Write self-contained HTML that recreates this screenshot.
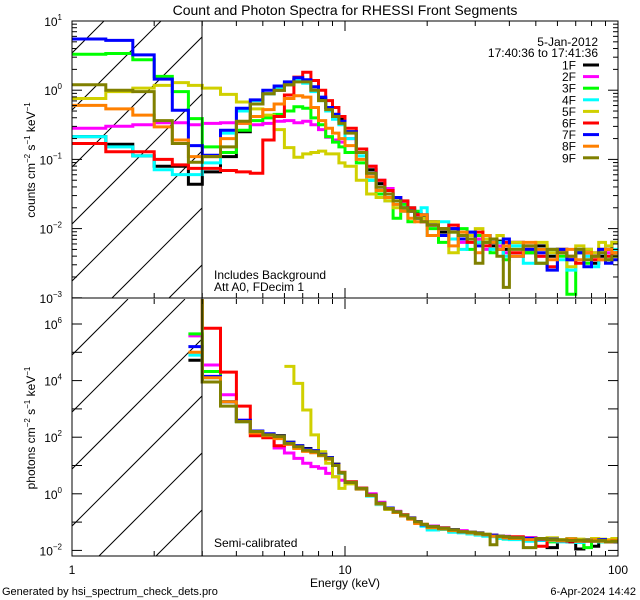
<!DOCTYPE html>
<html><head><meta charset="utf-8"><style>
html,body{margin:0;padding:0;background:#fff;}
svg{display:block;font-family:"Liberation Sans",sans-serif;}
</style></head><body>
<svg id="chart" width="640" height="600" viewBox="0 0 640 600" xmlns="http://www.w3.org/2000/svg">
<defs>
<clipPath id="clipTop"><rect x="72" y="21" width="546" height="277"/></clipPath>
<clipPath id="clipBot"><rect x="72" y="299" width="546" height="257"/></clipPath>
<clipPath id="hatchTop"><rect x="72" y="21" width="130" height="277"/></clipPath>
<clipPath id="hatchBot"><rect x="72" y="299" width="130" height="257"/></clipPath>
</defs>
<rect width="640" height="600" fill="#fff"/>
<text x="345" y="15" text-anchor="middle" font-size="14">Count and Photon Spectra for RHESSI Front Segments</text>
<g id="hatch"></g>
<g id="series"></g>
<g id="axes"></g>
<text x="214" y="279" font-size="12">Includes Background</text>
<text x="214" y="291" font-size="12">Att A0, FDecim 1</text>
<text x="214" y="547" font-size="12">Semi-calibrated</text>
<text x="598" y="46" text-anchor="end" font-size="12">5-Jan-2012</text>
<text x="598" y="57" text-anchor="end" font-size="12">17:40:36 to 17:41:36</text>
<g id="legend"></g>
<text transform="translate(35,160) rotate(-90)" text-anchor="middle" font-size="12">counts cm<tspan dy="-5" font-size="8">−2</tspan><tspan dy="5"> s</tspan><tspan dy="-5" font-size="8">−1</tspan><tspan dy="5"> keV</tspan><tspan dy="-5" font-size="8">−1</tspan></text>
<text transform="translate(35,428) rotate(-90)" text-anchor="middle" font-size="12">photons cm<tspan dy="-5" font-size="8">−2</tspan><tspan dy="5"> s</tspan><tspan dy="-5" font-size="8">−1</tspan><tspan dy="5"> keV</tspan><tspan dy="-5" font-size="8">−1</tspan></text>
<text x="345" y="587" text-anchor="middle" font-size="12">Energy (keV)</text>
<text x="2" y="595" font-size="11">Generated by hsi_spectrum_check_dets.pro</text>
<text x="636" y="595" text-anchor="end" font-size="11">6-Apr-2024 14:42</text>
</svg>
<script>
const energyEdges = [1,1.33,1.67,2,2.33,2.67,3,3.5,4,4.5,5,5.5,6,6.5,7,7.5,8,8.5,9,9.5,10,11,12,13,14,15,16,17,18,19,20,22,24,26,28,30,32,34,36,38,40,45,50,55,60,65,70,75,80,85,90,95,100];
const seriesNames = ["1F","2F","3F","4F","5F","6F","7F","8F","9F"];
const seriesColors = ["#000000","#ff00ff","#00ff00","#00ffff","#d0d000","#ff0000","#0000ff","#ff8000","#808000"];
// top panel: log10(counts), bins starting at 1 keV
const count1F = [-0.67,-0.78,-0.95,-1.1,-1.1,-1.36,-1.18,-0.96,-0.6,-0.2,-0.05,0.0,0.08,0.15,0.12,0.0,-0.12,-0.25,-0.35,-0.42,-0.6,-0.85,-1.15,-1.35,-1.5,-1.55,-1.62,-1.72,-1.78,-1.82,-1.9,-2.05,-2.0,-2.15,-2.05,-2.2,-2.1,-2.25,-2.18,-2.3,-2.2,-2.35,-2.25,-2.4,-2.3,-2.45,-2.35,-2.3,-2.5,-2.4,-2.3,-2.2];
const count2F = [-0.55,-0.52,-0.5,-0.47,-0.47,-0.5,-0.48,-0.47,-0.48,-0.5,-0.48,-0.45,-0.44,-0.47,-0.45,-0.5,-0.57,-0.68,-0.72,-0.75,-0.7,-0.85,-1.1,-1.3,-1.42,-1.55,-1.62,-1.75,-1.8,-1.9,-1.95,-2.1,-2.0,-2.2,-2.1,-2.15,-2.3,-2.2,-2.25,-2.35,-2.2,-2.3,-2.4,-2.3,-2.35,-2.45,-2.3,-2.4,-2.35,-2.45,-2.35,-2.4];
const count3F = [0.52,0.53,0.44,0.2,-0.02,-0.41,-0.82,-0.9,-0.58,-0.44,-0.4,-0.35,-0.3,-0.24,-0.26,-0.4,-0.5,-0.67,-0.75,-0.82,-0.9,-1.05,-1.3,-1.5,-1.55,-1.85,-1.65,-1.9,-1.75,-1.85,-2.0,-2.2,-2.05,-2.0,-2.3,-2.1,-2.2,-2.35,-2.2,-2.45,-2.25,-2.35,-2.5,-2.3,-2.4,-2.95,-2.35,-2.5,-2.4,-2.3,-2.45,-2.4];
const count4F = [-0.67,-0.82,-0.95,-1.15,-1.22,-1.22,-1.05,-0.62,-0.3,-0.15,-0.05,0.02,0.1,0.14,0.1,-0.02,-0.15,-0.3,-0.42,-0.5,-0.7,-0.95,-1.3,-1.45,-1.6,-1.65,-1.75,-1.7,-1.85,-1.7,-2.1,-1.9,-2.15,-2.3,-2.05,-2.2,-2.1,-2.3,-2.2,-2.4,-2.25,-2.5,-2.3,-2.35,-2.45,-2.6,-2.3,-2.4,-2.55,-2.35,-2.4,-2.3];
const count5F = [-0.12,-0.02,0.03,0.07,0.11,0.07,0.03,-0.06,-0.17,-0.27,-0.36,-0.57,-0.83,-0.97,-0.92,-0.9,-0.88,-0.92,-0.92,-1.05,-1.1,-1.3,-1.5,-1.55,-1.6,-1.7,-1.72,-1.75,-1.8,-1.85,-1.9,-2.0,-2.35,-2.05,-2.1,-2.0,-2.15,-2.2,-2.1,-2.25,-2.2,-2.3,-2.2,-2.35,-2.3,-2.55,-2.25,-2.3,-2.35,-2.2,-2.25,-2.2];
const count6F = [-0.77,-0.89,-0.89,-1.0,-1.08,-1.13,-1.13,-1.16,-1.18,-1.2,-0.72,-0.38,-0.07,0.19,0.26,0.14,0.0,-0.15,-0.25,-0.38,-0.55,-0.85,-1.1,-1.3,-1.45,-1.55,-1.6,-1.7,-1.8,-1.9,-1.95,-2.0,-1.95,-2.1,-2.2,-2.05,-2.25,-2.15,-2.3,-2.2,-2.35,-2.25,-2.4,-2.55,-2.3,-2.4,-2.5,-2.35,-2.45,-2.3,-2.4,-2.35];
const count7F = [0.74,0.72,0.51,0.16,-0.29,-0.8,-0.94,-0.58,-0.26,-0.14,0.0,0.06,0.12,0.18,0.15,0.05,-0.1,-0.25,-0.35,-0.45,-0.6,-0.9,-1.2,-1.4,-1.55,-1.55,-1.7,-1.75,-1.85,-1.8,-1.95,-2.1,-2.0,-2.15,-2.05,-2.25,-2.1,-2.2,-2.3,-2.15,-2.4,-2.3,-2.35,-2.6,-2.3,-2.45,-2.35,-2.55,-2.4,-2.3,-2.5,-2.45];
const count8F = [-0.22,-0.27,-0.36,-0.53,-0.72,-0.96,-0.96,-0.7,-0.48,-0.38,-0.28,-0.2,-0.12,-0.08,-0.1,-0.25,-0.44,-0.55,-0.62,-0.7,-0.8,-1.0,-1.25,-1.45,-1.55,-1.65,-1.75,-1.85,-1.9,-1.8,-2.1,-2.0,-2.25,-2.05,-2.15,-2.35,-2.1,-2.2,-2.3,-2.25,-2.4,-2.2,-2.3,-2.45,-2.35,-2.3,-2.45,-2.35,-2.4,-2.45,-2.3,-2.35];
const count9F = [0.08,0.0,-0.02,-0.44,-0.77,-1.04,-0.96,-0.82,-0.45,-0.2,-0.05,0.0,0.08,0.12,0.12,0.0,-0.15,-0.28,-0.38,-0.48,-0.62,-0.9,-1.2,-1.4,-1.5,-1.6,-1.7,-1.75,-1.85,-1.9,-1.95,-2.0,-2.05,-2.1,-2.15,-2.5,-2.2,-2.15,-2.4,-2.85,-2.3,-2.25,-2.5,-2.3,-2.35,-2.4,-2.3,-2.45,-2.4,-2.35,-2.45,-2.4];
// bottom panel: log10(photons), bins starting at 2.67 keV (bin index 5)
const photonStartBin = 5;
const phot1F = [4.72,3.95,3.25,2.55,2.2,2.08,2.05,1.82,1.7,1.6,1.52,1.4,1.28,1.05,0.75,0.42,0.2,-0.05,-0.34,-0.5,-0.66,-0.78,-0.85,-1.0,-1.1,-1.15,-1.25,-1.28,-1.32,-1.4,-1.38,-1.45,-1.48,-1.5,-1.55,-1.6,-1.55,-1.6,-1.9,-1.65,-1.7,-1.95,-1.62,-1.85,-1.66,-1.68,-1.7];
const phot2F = [5.58,4.55,3.5,2.6,2.2,2.08,1.62,1.44,1.25,1.08,0.96,0.9,0.72,0.6,0.48,0.4,0.2,0.0,-0.3,-0.52,-0.62,-0.74,-0.86,-0.98,-1.1,-1.14,-1.22,-1.27,-1.3,-1.38,-1.4,-1.44,-1.46,-1.5,-1.5,-1.55,-1.55,-1.6,-1.62,-1.64,-1.6,-1.65,-1.64,-1.68,-1.66,-1.7,-1.66];
const phot3F = [5.65,4.32,3.25,2.55,2.15,2.05,2.0,1.78,1.62,1.52,1.46,1.35,1.22,1.0,0.72,0.38,0.18,-0.05,-0.36,-0.55,-0.66,-0.78,-0.88,-1.0,-1.12,-1.2,-1.25,-1.32,-1.36,-1.42,-1.45,-1.48,-1.5,-1.56,-1.6,-1.6,-1.65,-1.62,-1.7,-1.66,-1.65,-1.7,-1.9,-1.66,-1.7,-1.65,-1.68];
const phot4F = [4.9,4.1,3.25,2.55,2.2,2.08,2.0,1.78,1.66,1.55,1.48,1.36,1.25,1.0,0.72,0.38,0.18,-0.08,-0.38,-0.52,-0.64,-0.76,-0.88,-1.0,-1.15,-1.28,-1.25,-1.36,-1.38,-1.42,-1.46,-1.5,-1.52,-1.58,-1.6,-1.62,-1.68,-1.65,-1.66,-1.7,-1.65,-1.72,-1.68,-1.66,-1.7,-1.65,-1.68];
const phot5F = [null,null,null,null,null,null,null,4.5,3.9,2.96,2.08,1.49,1.08,0.6,0.19,0.35,0.16,-0.05,-0.34,-0.52,-0.64,-0.75,-0.87,-0.99,-1.08,-1.16,-1.22,-1.27,-1.34,-1.36,-1.4,-1.43,-1.46,-1.5,-1.52,-1.55,-1.58,-1.6,-1.55,-1.62,-1.58,-1.6,-1.62,-1.58,-1.6,-1.62,-1.58];
const phot6F = [7.5,5.85,4.3,3.1,2.05,1.98,1.7,1.75,1.62,1.52,1.48,1.38,1.25,1.02,0.76,0.42,0.2,-0.04,-0.34,-0.52,-0.64,-0.74,-0.86,-0.98,-1.08,-1.16,-1.2,-1.27,-1.34,-1.36,-1.42,-1.44,-1.46,-1.5,-1.55,-1.52,-1.6,-1.85,-1.62,-1.66,-1.68,-1.65,-1.68,-1.64,-1.66,-1.7,-1.68];
const phot7F = [5.2,4.15,3.25,2.6,2.22,2.12,2.02,1.82,1.7,1.58,1.52,1.4,1.28,1.02,0.74,0.4,0.18,-0.05,-0.34,-0.5,-0.64,-0.75,-0.86,-0.98,-1.1,-1.16,-1.22,-1.26,-1.34,-1.36,-1.4,-1.44,-1.46,-1.5,-1.52,-1.56,-1.58,-1.62,-1.6,-1.66,-1.6,-1.68,-1.64,-1.66,-1.62,-1.68,-1.66];
const phot8F = [5.0,4.1,3.25,2.55,2.15,2.05,1.95,1.75,1.6,1.5,1.45,1.35,1.22,1.0,0.74,0.4,0.18,-0.06,-0.36,-0.54,-0.66,-0.78,-0.9,-1.05,-1.08,-1.2,-1.24,-1.3,-1.34,-1.38,-1.42,-1.45,-1.5,-1.52,-1.55,-1.58,-1.62,-1.6,-1.64,-1.66,-1.6,-1.68,-1.66,-1.64,-1.68,-1.66,-1.64];
const phot9F = [7.5,3.95,3.1,2.55,2.2,2.08,2.02,1.78,1.66,1.54,1.49,1.37,1.25,1.0,0.75,0.4,0.19,-0.05,-0.34,-0.52,-0.64,-0.75,-0.87,-0.99,-1.08,-1.16,-1.22,-1.27,-1.34,-1.36,-1.4,-1.43,-1.8,-1.5,-1.52,-1.55,-1.9,-1.58,-1.62,-1.63,-1.65,-1.64,-1.66,-1.68,-1.65,-1.7,-1.68];
const countSeries = [count1F,count2F,count3F,count4F,count5F,count6F,count7F,count8F,count9F];
const photonSeries = [phot1F,phot2F,phot3F,phot4F,phot5F,phot6F,phot7F,phot8F,phot9F];
const xTickMajor = [1,10,100];
const xTickLabels = ["1","10","100"];
const topYDecades = [1,0,-1,-2,-3];
const botYDecades = [6,5,4,3,2,1,0,-1,-2];
const botYLabelDecades = [6,4,2,0,-2];

const NS = "http://www.w3.org/2000/svg";
const X0 = 72, X1 = 618, DEC = 273;
const xS = e => X0 + DEC * Math.log10(e);
const yTop = l => 21 + (1 - l) * 69.2;
const yBot = l => 324 + (6 - l) * 28.3;
function mk(tag, attrs, parent){
  const el = document.createElementNS(NS, tag);
  for (const k in attrs) el.setAttribute(k, attrs[k]);
  parent.appendChild(el);
  return el;
}
// hatch
const hatch = document.getElementById('hatch');
[["hatchTop",298,112,21],["hatchBot",556,99,299]].forEach(([cp,yb,x0,yt])=>{
  const g = mk('g',{ 'clip-path':`url(#${cp})` }, hatch);
  
  
  for (let k=-6;k<6;k++){
    const xb = x0 + k*57;
    mk('line',{x1:xb,y1:yb,x2:xb+(yb-yt),y2:yt,stroke:'#000','stroke-width':1},g);
  }
});
// series
function stepPath(vals, start, ys){
  let d = "", pen = false;
  for (let i=0;i<vals.length;i++){
    const v = vals[i], b = start + i;
    if (b+1 >= energyEdges.length) break;
    if (v === null){ pen = false; continue; }
    const xa = xS(energyEdges[b]), xb = xS(energyEdges[b+1]), y = ys(v);
    d += (pen ? "L" : "M") + xa.toFixed(1) + "," + y.toFixed(1) + "L" + xb.toFixed(1) + "," + y.toFixed(1);
    pen = true;
  }
  return d;
}
const sl = document.getElementById('series');
const gT = mk('g',{'clip-path':'url(#clipTop)'}, sl);


const gB = mk('g',{'clip-path':'url(#clipBot)'}, sl);


countSeries.forEach((s,i)=>{
  const p = mk('path',{d:stepPath(s,0,yTop),fill:'none',stroke:seriesColors[i],'stroke-width':3,'stroke-linejoin':'miter'},gT);
  
  
});
photonSeries.forEach((s,i)=>{
  const p = mk('path',{d:stepPath(s,photonStartBin,yBot),fill:'none',stroke:seriesColors[i],'stroke-width':3},gB);
  
  
});
// axes
const ax = document.getElementById('axes');
mk('rect',{x:X0,y:21,width:X1-X0,height:277,fill:'none',stroke:'#000','stroke-width':1},ax);
mk('rect',{x:X0,y:298,width:X1-X0,height:258,fill:'none',stroke:'#000','stroke-width':1},ax);
mk('line',{x1:202,y1:21,x2:202,y2:556,stroke:'#000','stroke-width':1},ax);
// x ticks
[[298,-1],[21,1],[556,-1],[299,1]].forEach(([y,dir])=>{
  for (let dec=0; dec<2; dec++){
    for (let m=1;m<=10;m++){
      const e = Math.pow(10,dec)*m;
      if (m===10 && dec===0) continue;
      const len = (m===1||m===10)?10:5;
      mk('line',{x1:xS(e),y1:y,x2:xS(e),y2:y+dir*len,stroke:'#000'},ax);
    }
  }
});
xTickMajor.forEach((e,i)=>{
  const t = mk('text',{x:xS(e),y:574,'text-anchor':'middle','font-size':12},ax);
  t.textContent = xTickLabels[i];
  
  
});
// top y ticks
topYDecades.forEach(d=>{
  [X0,X1].forEach((x,j)=>{
    const dir = j===0?1:-1;
    mk('line',{x1:x,y1:yTop(d),x2:x+dir*10,y2:yTop(d),stroke:'#000'},ax);
    if (d>-3) for (let m=2;m<10;m++){
      const y = yTop(d-1+Math.log10(m));
      mk('line',{x1:x,y1:y,x2:x+dir*5,y2:y,stroke:'#000'},ax);
    }
  });
  const t = mk('text',{x:62,y:yTop(d)+5,'text-anchor':'end','font-size':12},ax);
  
  
  t.textContent = '10';
  const s = mk('tspan',{dy:-6,'font-size':8},t); s.textContent = d<0?('−'+(-d)):String(d);
});
botYDecades.forEach(d=>{
  [X0,X1].forEach((x,j)=>{
    const dir = j===0?1:-1;
    mk('line',{x1:x,y1:yBot(d),x2:x+dir*10,y2:yBot(d),stroke:'#000'},ax);
  });
});
botYLabelDecades.forEach(d=>{
  const t = mk('text',{x:62,y:yBot(d)+5,'text-anchor':'end','font-size':12},ax);
  
  
  t.textContent = '10';
  const s = mk('tspan',{dy:-6,'font-size':8},t); s.textContent = d<0?('−'+(-d)):String(d);
});
// legend
const lg = document.getElementById('legend');
seriesNames.forEach((n,i)=>{
  const y = 65 + i*11.6;
  const g = mk('g',{},lg);
  
  
  const t = mk('text',{x:576,y:y+4.5,'text-anchor':'end','font-size':12},g);
  t.textContent = n;
  mk('line',{x1:583,y1:y,x2:599,y2:y,stroke:seriesColors[i],'stroke-width':3},g);
});
</script>
</body></html>
